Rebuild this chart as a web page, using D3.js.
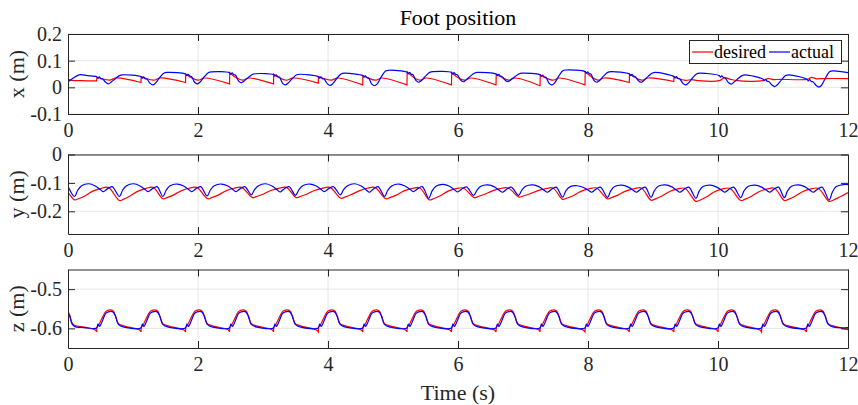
<!DOCTYPE html>
<html>
<head>
<meta charset="utf-8">
<script src="https://cdn.jsdelivr.net/npm/d3@7"></script>
<style>
  body { margin: 0; background: #fff; }
  svg { display: block; }
  text { font-family: "Liberation Serif", "Times New Roman", serif; }
</style>
</head>
<body>
<svg id="fig" width="858" height="405"></svg>
<script>
// tick values
var timeTicks = [0, 2, 4, 6, 8, 10, 12];
var xPosTicks = [-0.1, 0, 0.1, 0.2];
var yPosTicks = [-0.2, -0.1, 0];
var zPosTicks = [-0.6, -0.5];
var seriesNames = ["desired", "actual"];

// [time s, value m]
var xDes = [
  [0,0.030],[0.06,0.026],[0.2,0.025],[0.441,0.024],
  [0.444,0.038],[0.50,0.034],[0.64,0.027],[0.74,0.035],[1.123,0.018],
  [1.126,0.040],[1.18,0.035],[1.32,0.027],[1.42,0.035],[1.808,0.018],
  [1.811,0.050],[1.87,0.040],[2.00,0.027],[2.10,0.035],[2.485,0.013],
  [2.488,0.055],[2.55,0.042],[2.68,0.027],[2.78,0.035],[3.162,0.013],
  [3.165,0.049],[3.22,0.040],[3.36,0.027],[3.46,0.035],[3.851,0.016],
  [3.854,0.040],[3.91,0.035],[4.05,0.027],[4.15,0.035],[4.534,0.009],
  [4.537,0.044],[4.59,0.038],[4.73,0.027],[4.83,0.035],[5.215,0.009],
  [5.218,0.058],[5.28,0.044],[5.41,0.027],[5.51,0.035],[5.900,0.009],
  [5.903,0.055],[5.96,0.043],[6.10,0.027],[6.20,0.035],[6.585,0.009],
  [6.588,0.050],[6.65,0.041],[6.78,0.027],[6.88,0.035],[7.262,0.006],
  [7.265,0.047],[7.32,0.039],[7.46,0.027],[7.56,0.035],[7.954,0.009],
  [7.957,0.059],[8.02,0.045],[8.15,0.027],[8.25,0.035],[8.635,0.018],
  [8.638,0.050],[8.70,0.040],[8.83,0.027],[8.93,0.035],[9.320,0.022],
  [9.323,0.041],[9.38,0.034],[9.50,0.026],[9.60,0.029],[9.70,0.025],[10.02,0.025],
  [10.10,0.036],[10.18,0.031],[10.30,0.025],[10.69,0.025],
  [10.77,0.033],[10.86,0.029],[10.95,0.030],[11.37,0.030],
  [11.44,0.037],[11.52,0.032],[11.62,0.033],[12,0.033]
];
var xAct = [
  [0,0.021],[0.06,0.031],[0.17,0.047],[0.30,0.044],
  [0.441,0.040],[0.461,0.034],[0.481,0.039],[0.506,0.032],[0.531,0.031],[0.581,0.019],[0.621,0.013],[0.661,0.019],[0.731,0.033],[0.791,0.044],[0.841,0.047],
  [1.123,0.040],[1.143,0.034],[1.163,0.039],[1.188,0.032],[1.213,0.031],[1.263,0.015],[1.303,0.009],[1.343,0.015],[1.413,0.037],[1.473,0.053],[1.523,0.056],
  [1.808,0.050],[1.828,0.044],[1.848,0.049],[1.873,0.042],[1.898,0.041],[1.948,0.019],[1.988,0.013],[2.028,0.019],[2.098,0.040],[2.158,0.055],[2.208,0.058],
  [2.485,0.055],[2.505,0.049],[2.525,0.054],[2.55,0.047],[2.575,0.046],[2.625,0.023],[2.665,0.017],[2.705,0.023],[2.775,0.037],[2.835,0.048],[2.885,0.051],
  [3.162,0.048],[3.182,0.042],[3.202,0.047],[3.227,0.040],[3.252,0.039],[3.302,0.015],[3.342,0.009],[3.382,0.015],[3.452,0.033],[3.512,0.046],[3.562,0.049],
  [3.851,0.040],[3.871,0.034],[3.891,0.039],[3.916,0.032],[3.941,0.031],[3.991,0.013],[4.031,0.007],[4.071,0.013],[4.141,0.035],[4.201,0.050],[4.251,0.053],
  [4.534,0.044],[4.554,0.038],[4.574,0.043],[4.599,0.036],[4.624,0.035],[4.674,0.012],[4.714,0.006],[4.754,0.012],[4.824,0.041],[4.884,0.061],[4.934,0.064],
  [5.215,0.057],[5.235,0.051],[5.255,0.056],[5.28,0.049],[5.305,0.048],[5.355,0.025],[5.395,0.019],[5.435,0.025],[5.505,0.043],[5.565,0.056],[5.615,0.059],
  [5.9,0.056],[5.92,0.050],[5.94,0.055],[5.965,0.048],[5.99,0.047],[6.04,0.027],[6.08,0.021],[6.12,0.027],[6.19,0.042],[6.25,0.053],[6.30,0.056],
  [6.585,0.050],[6.605,0.044],[6.625,0.049],[6.65,0.042],[6.675,0.041],[6.725,0.027],[6.765,0.021],[6.805,0.027],[6.875,0.040],[6.935,0.050],[6.985,0.053],
  [7.262,0.047],[7.282,0.041],[7.302,0.046],[7.327,0.039],[7.352,0.038],[7.402,0.015],[7.442,0.009],[7.482,0.015],[7.552,0.043],[7.612,0.062],[7.662,0.065],
  [7.954,0.059],[7.974,0.053],[7.994,0.058],[8.019,0.051],[8.044,0.050],[8.094,0.025],[8.134,0.019],[8.174,0.025],[8.244,0.043],[8.304,0.056],[8.354,0.059],
  [8.635,0.050],[8.655,0.044],[8.675,0.049],[8.70,0.042],[8.725,0.041],[8.775,0.025],[8.815,0.019],[8.855,0.025],[8.925,0.041],[8.985,0.053],[9.035,0.056],
  [9.32,0.041],[9.34,0.035],[9.36,0.040],[9.385,0.033],[9.41,0.032],[9.46,0.015],[9.50,0.009],[9.54,0.015],[9.61,0.036],[9.67,0.050],[9.72,0.053],
  [10.02,0.044],[10.04,0.038],[10.06,0.043],[10.085,0.036],[10.11,0.035],[10.16,0.018],[10.20,0.012],[10.24,0.018],[10.31,0.033],[10.37,0.044],[10.42,0.047],
  [10.69,0.031],[10.71,0.025],[10.73,0.030],[10.755,0.023],[10.78,0.022],[10.83,0.009],[10.87,0.003],[10.91,0.009],[10.98,0.029],[11.04,0.044],[11.09,0.047],
  [11.37,0.030],[11.39,0.024],[11.41,0.029],[11.435,0.022],[11.46,0.021],[11.51,0.007],[11.55,0.001],[11.59,0.007],[11.66,0.038],[11.72,0.059],[11.77,0.062],[12,0.055]
];

var yDes = [
  [0,-0.133],[0.05,-0.148],
  [0.10,-0.160],[0.16,-0.156],[0.26,-0.146],[0.38,-0.129],[0.50,-0.120],[0.62,-0.116],
  [0.79,-0.162],[0.85,-0.158],[0.95,-0.147],[1.07,-0.130],[1.19,-0.120],[1.31,-0.116],
  [1.46,-0.156],[1.52,-0.152],[1.62,-0.143],[1.74,-0.128],[1.86,-0.119],[1.98,-0.116],
  [2.15,-0.156],[2.21,-0.152],[2.31,-0.143],[2.43,-0.128],[2.55,-0.119],[2.67,-0.116],
  [2.84,-0.152],[2.90,-0.148],[3.00,-0.140],[3.12,-0.127],[3.24,-0.119],[3.36,-0.116],
  [3.51,-0.152],[3.57,-0.148],[3.67,-0.140],[3.79,-0.127],[3.91,-0.119],[4.03,-0.116],
  [4.20,-0.154],[4.26,-0.150],[4.36,-0.141],[4.48,-0.128],[4.60,-0.119],[4.72,-0.116],
  [4.89,-0.156],[4.95,-0.152],[5.05,-0.143],[5.17,-0.128],[5.29,-0.120],[5.41,-0.117],
  [5.56,-0.160],[5.62,-0.156],[5.72,-0.146],[5.84,-0.130],[5.96,-0.121],[6.08,-0.118],
  [6.25,-0.152],[6.31,-0.148],[6.41,-0.140],[6.53,-0.128],[6.65,-0.120],[6.77,-0.118],
  [6.94,-0.150],[7.00,-0.146],[7.10,-0.139],[7.22,-0.128],[7.34,-0.121],[7.46,-0.118],
  [7.61,-0.158],[7.67,-0.154],[7.77,-0.145],[7.89,-0.130],[8.01,-0.121],[8.13,-0.118],
  [8.30,-0.156],[8.36,-0.152],[8.46,-0.143],[8.58,-0.129],[8.70,-0.121],[8.82,-0.118],
  [8.97,-0.161],[9.03,-0.157],[9.13,-0.147],[9.25,-0.131],[9.37,-0.122],[9.49,-0.119],
  [9.66,-0.165],[9.72,-0.161],[9.82,-0.150],[9.94,-0.132],[10.06,-0.122],[10.18,-0.119],
  [10.35,-0.162],[10.41,-0.158],[10.51,-0.148],[10.63,-0.131],[10.75,-0.122],[10.87,-0.119],
  [11.02,-0.162],[11.08,-0.158],[11.18,-0.148],[11.30,-0.131],[11.42,-0.122],[11.54,-0.119],
  [11.71,-0.165],[11.77,-0.161],[11.87,-0.150],[12,-0.134]
];
var yAct = [
  [0,-0.112],
  [0.10,-0.148],[0.15,-0.126],[0.21,-0.110],[0.32,-0.103],[0.42,-0.111],[0.50,-0.124],[0.545,-0.131],[0.60,-0.122],[0.68,-0.113],
  [0.79,-0.148],[0.84,-0.126],[0.90,-0.110],[1.01,-0.103],[1.11,-0.111],[1.19,-0.124],[1.235,-0.131],[1.29,-0.122],[1.37,-0.113],
  [1.46,-0.148],[1.51,-0.126],[1.57,-0.110],[1.68,-0.104],[1.78,-0.111],[1.86,-0.124],[1.905,-0.131],[1.96,-0.122],[2.04,-0.113],
  [2.14,-0.146],[2.19,-0.125],[2.25,-0.110],[2.36,-0.104],[2.46,-0.111],[2.54,-0.124],[2.585,-0.131],[2.64,-0.122],[2.72,-0.113],
  [2.82,-0.142],[2.87,-0.124],[2.93,-0.110],[3.04,-0.103],[3.14,-0.111],[3.22,-0.125],[3.265,-0.132],[3.32,-0.122],[3.40,-0.113],
  [3.50,-0.144],[3.55,-0.125],[3.61,-0.110],[3.72,-0.104],[3.82,-0.111],[3.90,-0.124],[3.945,-0.131],[4.00,-0.122],[4.08,-0.113],
  [4.19,-0.142],[4.24,-0.124],[4.30,-0.110],[4.41,-0.103],[4.51,-0.111],[4.59,-0.125],[4.635,-0.133],[4.69,-0.123],[4.77,-0.113],
  [4.87,-0.148],[4.92,-0.126],[4.98,-0.111],[5.09,-0.104],[5.19,-0.112],[5.27,-0.124],[5.315,-0.131],[5.37,-0.122],[5.45,-0.113],
  [5.55,-0.154],[5.60,-0.129],[5.66,-0.112],[5.77,-0.105],[5.87,-0.112],[5.95,-0.125],[5.995,-0.132],[6.05,-0.123],[6.13,-0.114],
  [6.24,-0.144],[6.29,-0.126],[6.35,-0.112],[6.46,-0.107],[6.56,-0.114],[6.64,-0.127],[6.685,-0.133],[6.74,-0.124],[6.82,-0.115],
  [6.93,-0.144],[6.98,-0.126],[7.04,-0.112],[7.15,-0.107],[7.25,-0.114],[7.33,-0.127],[7.375,-0.133],[7.43,-0.124],[7.51,-0.115],
  [7.61,-0.150],[7.66,-0.128],[7.72,-0.114],[7.83,-0.110],[7.93,-0.116],[8.01,-0.127],[8.055,-0.133],[8.11,-0.124],[8.19,-0.115],
  [8.30,-0.151],[8.35,-0.128],[8.41,-0.113],[8.52,-0.108],[8.62,-0.115],[8.70,-0.127],[8.745,-0.133],[8.80,-0.124],[8.88,-0.115],
  [8.97,-0.151],[9.02,-0.128],[9.08,-0.112],[9.19,-0.107],[9.29,-0.114],[9.37,-0.127],[9.415,-0.133],[9.47,-0.124],[9.55,-0.115],
  [9.66,-0.154],[9.71,-0.129],[9.77,-0.113],[9.88,-0.108],[9.98,-0.115],[10.06,-0.127],[10.105,-0.133],[10.16,-0.124],[10.24,-0.115],
  [10.35,-0.152],[10.40,-0.128],[10.46,-0.113],[10.57,-0.108],[10.67,-0.115],[10.75,-0.127],[10.795,-0.133],[10.85,-0.124],[10.93,-0.115],
  [11.02,-0.152],[11.07,-0.128],[11.13,-0.112],[11.24,-0.107],[11.34,-0.114],[11.42,-0.127],[11.465,-0.133],[11.52,-0.124],[11.60,-0.115],
  [11.71,-0.160],[11.76,-0.132],[11.82,-0.113],[11.93,-0.106],[12,-0.106]
];

var zDes = [
  [0,-0.557],[0.03,-0.567],[0.06,-0.585],[0.10,-0.592],[0.25,-0.597],[0.42,-0.604],
  [0.441,-0.609],[0.445,-0.597],[0.481,-0.589],[0.521,-0.575],[0.571,-0.559],[0.611,-0.554],[0.691,-0.555],[0.731,-0.568],[0.776,-0.588],[0.841,-0.593],[1.101,-0.604],
  [1.123,-0.609],[1.127,-0.597],[1.163,-0.589],[1.203,-0.575],[1.253,-0.559],[1.293,-0.554],[1.373,-0.555],[1.413,-0.568],[1.458,-0.588],[1.523,-0.593],[1.783,-0.604],
  [1.808,-0.609],[1.812,-0.597],[1.848,-0.589],[1.888,-0.575],[1.938,-0.559],[1.978,-0.554],[2.058,-0.555],[2.098,-0.568],[2.143,-0.588],[2.208,-0.593],[2.468,-0.604],
  [2.485,-0.609],[2.489,-0.597],[2.525,-0.589],[2.565,-0.575],[2.615,-0.559],[2.655,-0.554],[2.735,-0.555],[2.775,-0.568],[2.82,-0.588],[2.885,-0.593],[3.145,-0.604],
  [3.162,-0.609],[3.166,-0.597],[3.202,-0.589],[3.242,-0.575],[3.292,-0.559],[3.332,-0.554],[3.412,-0.555],[3.452,-0.568],[3.497,-0.588],[3.562,-0.593],[3.822,-0.604],
  [3.851,-0.609],[3.855,-0.597],[3.891,-0.589],[3.931,-0.575],[3.981,-0.559],[4.021,-0.554],[4.101,-0.555],[4.141,-0.568],[4.186,-0.588],[4.251,-0.593],[4.511,-0.604],
  [4.534,-0.609],[4.538,-0.597],[4.574,-0.589],[4.614,-0.575],[4.664,-0.559],[4.704,-0.554],[4.784,-0.555],[4.824,-0.568],[4.869,-0.588],[4.934,-0.593],[5.194,-0.604],
  [5.215,-0.609],[5.219,-0.597],[5.255,-0.589],[5.295,-0.575],[5.345,-0.559],[5.385,-0.554],[5.465,-0.555],[5.505,-0.568],[5.55,-0.588],[5.615,-0.593],[5.875,-0.604],
  [5.9,-0.609],[5.904,-0.597],[5.94,-0.589],[5.98,-0.575],[6.03,-0.559],[6.07,-0.554],[6.15,-0.555],[6.19,-0.568],[6.235,-0.588],[6.30,-0.593],[6.56,-0.604],
  [6.585,-0.609],[6.589,-0.597],[6.625,-0.589],[6.665,-0.575],[6.715,-0.559],[6.755,-0.554],[6.835,-0.555],[6.875,-0.568],[6.92,-0.588],[6.985,-0.593],[7.245,-0.604],
  [7.262,-0.609],[7.266,-0.597],[7.302,-0.589],[7.342,-0.575],[7.392,-0.559],[7.432,-0.554],[7.512,-0.555],[7.552,-0.568],[7.597,-0.588],[7.662,-0.593],[7.922,-0.604],
  [7.954,-0.609],[7.958,-0.597],[7.994,-0.589],[8.034,-0.575],[8.084,-0.559],[8.124,-0.554],[8.204,-0.555],[8.244,-0.568],[8.289,-0.588],[8.354,-0.593],[8.614,-0.604],
  [8.635,-0.609],[8.639,-0.597],[8.675,-0.589],[8.715,-0.575],[8.765,-0.559],[8.805,-0.554],[8.885,-0.555],[8.925,-0.568],[8.97,-0.588],[9.035,-0.593],[9.295,-0.604],
  [9.32,-0.609],[9.324,-0.597],[9.36,-0.589],[9.40,-0.575],[9.45,-0.559],[9.49,-0.554],[9.57,-0.555],[9.61,-0.568],[9.655,-0.588],[9.72,-0.593],[9.98,-0.604],
  [10.0,-0.609],[10.004,-0.597],[10.04,-0.589],[10.08,-0.575],[10.13,-0.559],[10.17,-0.554],[10.25,-0.555],[10.29,-0.568],[10.335,-0.588],[10.40,-0.593],[10.645,-0.604],
  [10.67,-0.609],[10.674,-0.597],[10.71,-0.589],[10.75,-0.575],[10.80,-0.559],[10.84,-0.554],[10.92,-0.555],[10.96,-0.568],[11.005,-0.588],[11.07,-0.593],[11.335,-0.604],
  [11.36,-0.609],[11.364,-0.597],[11.40,-0.589],[11.44,-0.575],[11.49,-0.559],[11.53,-0.554],[11.61,-0.555],[11.65,-0.568],[11.695,-0.588],[11.76,-0.593],[12,-0.603]
];
var zAct = [
  [0,-0.560],[0.03,-0.571],[0.06,-0.588],[0.10,-0.595],[0.25,-0.598],
  [0.441,-0.599],[0.461,-0.589],[0.486,-0.595],[0.511,-0.588],[0.541,-0.576],[0.581,-0.562],[0.621,-0.558],[0.691,-0.558],[0.731,-0.570],[0.776,-0.590],[0.861,-0.597],
  [1.123,-0.599],[1.143,-0.589],[1.168,-0.595],[1.193,-0.588],[1.223,-0.576],[1.263,-0.562],[1.303,-0.558],[1.373,-0.558],[1.413,-0.570],[1.458,-0.590],[1.543,-0.597],
  [1.808,-0.599],[1.828,-0.589],[1.853,-0.595],[1.878,-0.588],[1.908,-0.576],[1.948,-0.562],[1.988,-0.558],[2.058,-0.558],[2.098,-0.570],[2.143,-0.590],[2.228,-0.597],
  [2.485,-0.599],[2.505,-0.589],[2.53,-0.595],[2.555,-0.588],[2.585,-0.576],[2.625,-0.562],[2.665,-0.558],[2.735,-0.558],[2.775,-0.570],[2.82,-0.590],[2.905,-0.597],
  [3.162,-0.599],[3.182,-0.589],[3.207,-0.595],[3.232,-0.588],[3.262,-0.576],[3.302,-0.562],[3.342,-0.558],[3.412,-0.558],[3.452,-0.570],[3.497,-0.590],[3.582,-0.597],
  [3.851,-0.599],[3.871,-0.589],[3.896,-0.595],[3.921,-0.588],[3.951,-0.576],[3.991,-0.562],[4.031,-0.558],[4.101,-0.558],[4.141,-0.570],[4.186,-0.590],[4.271,-0.597],
  [4.534,-0.599],[4.554,-0.589],[4.579,-0.595],[4.604,-0.588],[4.634,-0.576],[4.674,-0.562],[4.714,-0.558],[4.784,-0.558],[4.824,-0.570],[4.869,-0.590],[4.954,-0.597],
  [5.215,-0.599],[5.235,-0.589],[5.26,-0.595],[5.285,-0.588],[5.315,-0.576],[5.355,-0.562],[5.395,-0.558],[5.465,-0.558],[5.505,-0.570],[5.55,-0.590],[5.635,-0.597],
  [5.9,-0.599],[5.92,-0.589],[5.945,-0.595],[5.97,-0.588],[6.0,-0.576],[6.04,-0.562],[6.08,-0.558],[6.15,-0.558],[6.19,-0.570],[6.235,-0.590],[6.32,-0.597],
  [6.585,-0.599],[6.605,-0.589],[6.63,-0.595],[6.655,-0.588],[6.685,-0.576],[6.725,-0.562],[6.765,-0.558],[6.835,-0.558],[6.875,-0.570],[6.92,-0.590],[7.005,-0.597],
  [7.262,-0.599],[7.282,-0.589],[7.307,-0.595],[7.332,-0.588],[7.362,-0.576],[7.402,-0.562],[7.442,-0.558],[7.512,-0.558],[7.552,-0.570],[7.597,-0.590],[7.682,-0.597],
  [7.954,-0.599],[7.974,-0.589],[7.999,-0.595],[8.024,-0.588],[8.054,-0.576],[8.094,-0.562],[8.134,-0.558],[8.204,-0.558],[8.244,-0.570],[8.289,-0.590],[8.374,-0.597],
  [8.635,-0.599],[8.655,-0.589],[8.68,-0.595],[8.705,-0.588],[8.735,-0.576],[8.775,-0.562],[8.815,-0.558],[8.885,-0.558],[8.925,-0.570],[8.97,-0.590],[9.055,-0.597],
  [9.32,-0.599],[9.34,-0.589],[9.365,-0.595],[9.39,-0.588],[9.42,-0.576],[9.46,-0.562],[9.50,-0.558],[9.57,-0.558],[9.61,-0.570],[9.655,-0.590],[9.74,-0.597],
  [10.0,-0.599],[10.02,-0.589],[10.045,-0.595],[10.07,-0.588],[10.10,-0.576],[10.14,-0.562],[10.18,-0.558],[10.25,-0.558],[10.29,-0.570],[10.335,-0.590],[10.42,-0.597],
  [10.67,-0.599],[10.69,-0.589],[10.715,-0.595],[10.74,-0.588],[10.77,-0.576],[10.81,-0.562],[10.85,-0.558],[10.92,-0.558],[10.96,-0.570],[11.005,-0.590],[11.09,-0.597],
  [11.36,-0.599],[11.38,-0.589],[11.405,-0.595],[11.43,-0.588],[11.46,-0.576],[11.50,-0.562],[11.54,-0.558],[11.61,-0.558],[11.65,-0.570],[11.695,-0.590],[11.78,-0.597],[12,-0.598]
];

var serif = "'Liberation Serif', 'Times New Roman', serif";
var svg = d3.select("#fig");
var left = 68, right = 848;
var x = d3.scaleLinear().domain([0, 12]).range([left, right]);
var axisColor = "#262626";

var panels = [
  { top: 34, bottom: 114, domain: [-0.1, 0.2], ticks: xPosTicks, label: "x (m)", des: xDes, act: xAct },
  { top: 154.5, bottom: 234, domain: [-0.28, 0], ticks: yPosTicks, label: "y (m)", des: yDes, act: yAct },
  { top: 269.5, bottom: 348, domain: [-0.65, -0.45], ticks: zPosTicks, label: "z (m)", des: zDes, act: zAct }
];

// split at the vertical resets so the smoothing does not overshoot them
function tracePath(pts, y) {
  var line = d3.line()
    .x(function(d) { return x(d[0]); })
    .y(function(d) { return y(d[1]); })
    .curve(d3.curveCatmullRom.alpha(0.5));
  var runs = [[pts[0]]];
  for (var i = 1; i < pts.length; i++) {
    if (pts[i][0] - pts[i - 1][0] < 0.006) runs.push([]);
    runs[runs.length - 1].push(pts[i]);
  }
  return runs.map(function(r, k) {
    if (r.length === 1) return "L" + x(r[0][0]) + "," + y(r[0][1]);
    var d = line(r);
    return k ? "L" + d.slice(1) : d;
  }).join("");
}

panels.forEach(function(p, i) {
  var y = d3.scaleLinear().domain(p.domain).range([p.bottom, p.top]);
  var g = svg.append("g");

  // grid
  g.append("g").selectAll("line").data(timeTicks.slice(1, -1)).enter().append("line")
    .attr("x1", function(d) { return x(d); }).attr("x2", function(d) { return x(d); })
    .attr("y1", p.top).attr("y2", p.bottom)
    .attr("stroke", "#e6e6e6").attr("stroke-width", 1);
  g.append("g").selectAll("line").data(p.ticks).enter().append("line")
    .attr("x1", left).attr("x2", right)
    .attr("y1", function(d) { return y(d); }).attr("y2", function(d) { return y(d); })
    .attr("stroke", "#e6e6e6").attr("stroke-width", 1);

  // data
  var clipId = "clip" + i;
  svg.append("clipPath").attr("id", clipId).append("rect")
    .attr("x", left).attr("y", p.top).attr("width", right - left).attr("height", p.bottom - p.top);
  var lines = g.append("g").attr("clip-path", "url(#" + clipId + ")");
  lines.append("path").attr("d", tracePath(p.des, y))
    .attr("fill", "none").attr("stroke", "#ff0000").attr("stroke-width", 1.2);
  lines.append("path").attr("d", tracePath(p.act, y))
    .attr("fill", "none").attr("stroke", "#0000ff").attr("stroke-width", 1.2);

  // axes, ticks pointing inward on all four sides
  var ax = [
    g.append("g").attr("transform", "translate(0," + p.bottom + ")")
      .call(d3.axisBottom(x).tickValues(timeTicks).tickSize(-7).tickSizeOuter(0).tickPadding(9).tickFormat(function(d) { return String(d); })),
    g.append("g").attr("transform", "translate(0," + p.top + ")")
      .call(d3.axisTop(x).tickValues(timeTicks).tickSize(-7).tickSizeOuter(0).tickFormat("")),
    g.append("g").attr("transform", "translate(" + left + ",0)")
      .call(d3.axisLeft(y).tickValues(p.ticks).tickSize(-7).tickSizeOuter(0).tickPadding(6).tickFormat(function(d) { return String(d); })),
    g.append("g").attr("transform", "translate(" + right + ",0)")
      .call(d3.axisRight(y).tickValues(p.ticks).tickSize(-7).tickSizeOuter(0).tickFormat(""))
  ];
  ax.forEach(function(a) {
    a.attr("font-family", serif).attr("font-size", 20);
    a.select(".domain").attr("stroke", axisColor);
    a.selectAll(".tick line").attr("stroke", axisColor);
    a.selectAll(".tick text").attr("fill", axisColor).attr("font-family", serif);
  });

  g.append("text")
    .attr("transform", "translate(23.5," + ((p.top + p.bottom) / 2) + ") rotate(-90)")
    .attr("text-anchor", "middle").attr("font-size", 22).attr("font-family", serif).attr("fill", axisColor)
    .text(p.label);
});

svg.append("text").attr("x", (left + right) / 2).attr("y", 25)
  .attr("text-anchor", "middle").attr("font-size", 22).attr("font-family", serif).attr("fill", "#000")
  .text("Foot position");
svg.append("text").attr("x", (left + right) / 2).attr("y", 400)
  .attr("text-anchor", "middle").attr("font-size", 22).attr("font-family", serif).attr("fill", axisColor)
  .text("Time (s)");

// legend
var leg = svg.append("g");
leg.append("rect").attr("x", 689.5).attr("y", 40.5).attr("width", 152).attr("height", 23)
  .attr("fill", "#fff").attr("stroke", axisColor).attr("stroke-width", 1);
var legItems = [
  { name: seriesNames[0], color: "#ff0000", x0: 692 },
  { name: seriesNames[1], color: "#0000ff", x0: 769 }
];
legItems.forEach(function(it) {
  leg.append("line").attr("x1", it.x0).attr("x2", it.x0 + 21).attr("y1", 52).attr("y2", 52)
    .attr("stroke", it.color).attr("stroke-width", 1.2);
  leg.append("text").attr("x", it.x0 + 22).attr("y", 58).attr("font-size", 18).attr("font-family", serif).attr("fill", "#000")
    .text(it.name);
});
</script>
</body>
</html>
